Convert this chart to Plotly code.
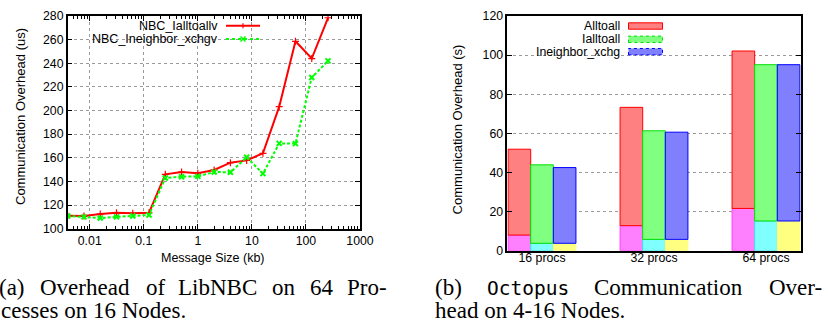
import plotly.graph_objects as go

W, H = 828, 327
def px(x): return x / W
def py(y): return 1 - y / H

# ---------------- data: (a) LibNBC overhead ----------------
msg_size_kb = [0.00390625, 0.0078125, 0.015625, 0.03125, 0.0625, 0.125, 0.25, 0.5,
               1, 2, 4, 8, 16, 32, 64, 128, 256]
nbc_ialltoallv = [111.0, 110.7, 112.4, 113.5, 113.0, 113.5, 146.0, 148.0, 147.0,
                  149.7, 155.9, 157.8, 163.8, 203.3, 258.6, 244.0, 278.5]
nbc_ineighbor_xchgv = [110.7, 110.0, 109.0, 110.0, 110.7, 111.6, 142.9, 144.0, 144.3,
                       148.0, 147.7, 160.4, 146.6, 172.2, 172.0, 228.0, 242.0]
x_tick_vals = [0.01, 0.1, 1, 10, 100, 1000]
x_tick_text = ["0.01", "0.1", "1", "10", "100", "1000"]

# ---------------- data: (b) Octopus overhead ----------------
procs = ["16 procs", "32 procs", "64 procs"]
alltoall_total = [51.9, 73.3, 102.1]
alltoall_low = [8.0, 12.8, 21.6]
ialltoall_total = [43.9, 61.3, 95.1]
ialltoall_low = [3.8, 5.8, 15.2]
ineighbor_total = [42.5, 60.6, 95.1]
ineighbor_low = [3.8, 5.8, 15.2]

SANS = "Liberation Sans, Arial, sans-serif"
SERIF = "Liberation Serif, Times New Roman, serif"
MONO = "DejaVu Sans Mono, Liberation Mono, monospace"
GRID = "#9a9a9a"
TF = 12.3

fig = go.Figure()

# left line chart
fig.add_trace(go.Scatter(x=msg_size_kb, y=nbc_ialltoallv, mode="lines+markers",
                         line=dict(color="#ff0000", width=2),
                         marker=dict(symbol="cross-thin", size=5, line=dict(color="#ff0000", width=1.2)),
                         xaxis="x", yaxis="y", showlegend=False))
fig.add_trace(go.Scatter(x=msg_size_kb, y=nbc_ineighbor_xchgv, mode="lines+markers",
                         line=dict(color="#00ff00", width=2, dash="3px,2px"),
                         marker=dict(symbol="x-thin", size=5, line=dict(color="#00ff00", width=2)),
                         xaxis="x", yaxis="y", showlegend=False))

# right stacked/grouped bars
series = [
    (alltoall_total, alltoall_low, "#ff8080", "#ff0000", "#ff80ff", "#ff40ff", "a"),
    (ialltoall_total, ialltoall_low, "#80ff80", "#00e000", "#80ffff", "#40e0e0", "b"),
    (ineighbor_total, ineighbor_low, "#8080ff", "#0000ff", "#ffff80", "#ffff80", "c"),
]
for tot, low, fc, lc, fc2, lc2, og in series:
    fig.add_trace(go.Bar(x=procs, y=low, offsetgroup=og, marker=dict(color=fc2, line=dict(color=lc2, width=1)),
                         xaxis="x2", yaxis="y2", showlegend=False))
    fig.add_trace(go.Bar(x=procs, y=[t - l for t, l in zip(tot, low)], base=low, offsetgroup=og,
                         marker=dict(color=fc, line=dict(color=lc, width=1)),
                         xaxis="x2", yaxis="y2", showlegend=False))

common_axis = dict(showline=True, linecolor="black", linewidth=1.5, mirror="allticks",
                   ticks="inside", ticklen=5, tickcolor="black", tickwidth=1,
                   tickfont=dict(family=SANS, size=TF, color="black"), zeroline=False,
                   gridcolor=GRID, griddash="dot", gridwidth=1, automargin=False)

fig.update_layout(
    width=W, height=H, margin=dict(l=0, r=0, t=0, b=0, pad=0), autosize=False,
    paper_bgcolor="white", plot_bgcolor="white",
    barmode="group", bargap=0.394, bargroupgap=0,
    xaxis=dict(domain=[px(67.7), px(360)], type="log", range=[-2.408, 3.0],
               tickvals=x_tick_vals, ticktext=x_tick_text, showgrid=True,
               minor=dict(ticks="inside", ticklen=3, tickcolor="black", dtick="D1", showgrid=False),
               anchor="y", **common_axis),
    yaxis=dict(domain=[py(228.7), py(16)], range=[100, 280], dtick=20, showgrid=True,
               anchor="x", **common_axis),
    xaxis2=dict(domain=[px(507.3), px(800.7)], range=[-0.31, 2.31], type="category",
                showgrid=False, anchor="y2", ticklabelstandoff=-5,
                **{**common_axis, "ticks": "", "mirror": True}),
    yaxis2=dict(domain=[py(250.7), py(16)], range=[0, 120], dtick=20, showgrid=True,
                anchor="x2", **common_axis),
)

shapes = []
annotations = []

# legend backgrounds (cover the grid)
shapes.append(dict(type="rect", xref="paper", yref="paper", x0=px(90), x1=px(267), y0=py(45), y1=py(17),
                   fillcolor="white", line=dict(width=0), layer="between"))
shapes.append(dict(type="rect", xref="paper", yref="paper", x0=px(508.5), x1=px(665), y0=py(58), y1=py(17),
                   fillcolor="white", line=dict(width=0), layer="between"))

# left legend
leg_a = [("NBC_Ialltoallv", "#ff0000", None, 25.7, "plus"),
         ("NBC_Ineighbor_xchgv", "#00ff00", "dot", 39.0, "x")]
for txt, col, dash, yy, mk in leg_a:
    annotations.append(dict(text=txt, x=px(219.5), y=py(yy), xref="paper", yref="paper",
                            xanchor="right", yanchor="middle", showarrow=False,
                            font=dict(family=SANS, size=12.5, color="black")))
    shapes.append(dict(type="line", xref="paper", yref="paper", x0=px(226), x1=px(260),
                       y0=py(yy), y1=py(yy), line=dict(color=col, width=2, dash=dash)))
    cx = 243
    if mk == "plus":
        shapes.append(dict(type="line", xref="paper", yref="paper", x0=px(cx), x1=px(cx),
                           y0=py(yy - 2.5), y1=py(yy + 2.5), line=dict(color=col, width=1.2)))
    else:
        shapes.append(dict(type="line", xref="paper", yref="paper", x0=px(cx - 2.5), x1=px(cx + 2.5),
                           y0=py(yy - 2.5), y1=py(yy + 2.5), line=dict(color=col, width=1.5)))
        shapes.append(dict(type="line", xref="paper", yref="paper", x0=px(cx - 2.5), x1=px(cx + 2.5),
                           y0=py(yy + 2.5), y1=py(yy - 2.5), line=dict(color=col, width=1.5)))

# right legend
leg_b = [("Alltoall", "#ff8080", "#ff0000", "solid", 26.0),
         ("Ialltoall", "#80ff80", "#00e000", "dot", 39.3),
         ("Ineighbor_xchg", "#8080ff", "#0000ff", "dot", 51.7)]
for txt, fc, lc, dash, yy in leg_b:
    annotations.append(dict(text=txt, x=px(621.5), y=py(yy), xref="paper", yref="paper",
                            xanchor="right", yanchor="middle", showarrow=False,
                            font=dict(family=SANS, size=12.3, color="black")))
    shapes.append(dict(type="rect", xref="paper", yref="paper", x0=px(628.5), x1=px(662.5),
                       y0=py(yy + 3.2), y1=py(yy - 3.2), fillcolor=fc, line=dict(color=lc, width=1, dash=dash)))

# axis titles
annotations.append(dict(text="Communication Overhead (us)", x=px(20), y=py(117), xref="paper", yref="paper",
                        textangle=-90, showarrow=False, xanchor="center", yanchor="middle",
                        font=dict(family=SANS, size=13, color="black")))
annotations.append(dict(text="Message Size (kb)", x=px(213.3), y=py(258), xref="paper", yref="paper",
                        showarrow=False, xanchor="center", yanchor="middle",
                        font=dict(family=SANS, size=12.5, color="black")))
annotations.append(dict(text="Communication Overhead (s)", x=px(457.7), y=py(129.7), xref="paper", yref="paper",
                        textangle=-90, showarrow=False, xanchor="center", yanchor="middle",
                        font=dict(family=SANS, size=13, color="black")))

# captions (justified first lines, word by word)
CS = 23
def cap(text, x, ymid, font=SERIF, size=CS):
    annotations.append(dict(text=text, x=px(x), y=py(ymid), xref="paper", yref="paper",
                            showarrow=False, xanchor="left", yanchor="middle",
                            font=dict(family=font, size=size, color="black")))

Y1, Y2 = 287.5, 310
cap_a1 = [("(a)", -3), ("Overhead", 38), ("of", 143.5), ("LibNBC", 176), ("on", 270), ("64", 307.5), ("Pro-", 345)]
for t, x in cap_a1:
    cap(t, x, Y1)
cap("cesses on 16 Nodes.", -1, Y2)
cap_b1 = [("(b)", 433), ("Communication", 592), ("Over-", 767)]
for t, x in cap_b1:
    cap(t, x, Y1)
cap("Octopus", 485, Y1 + 1, font=MONO, size=19.5)
cap("head on 4-16 Nodes.", 433, Y2)

fig.update_layout(shapes=shapes, annotations=annotations)
fig.write_html("out.html", config={"displayModeBar": False},
               post_script="document.body.style.margin='0';document.body.style.overflow='hidden';")
